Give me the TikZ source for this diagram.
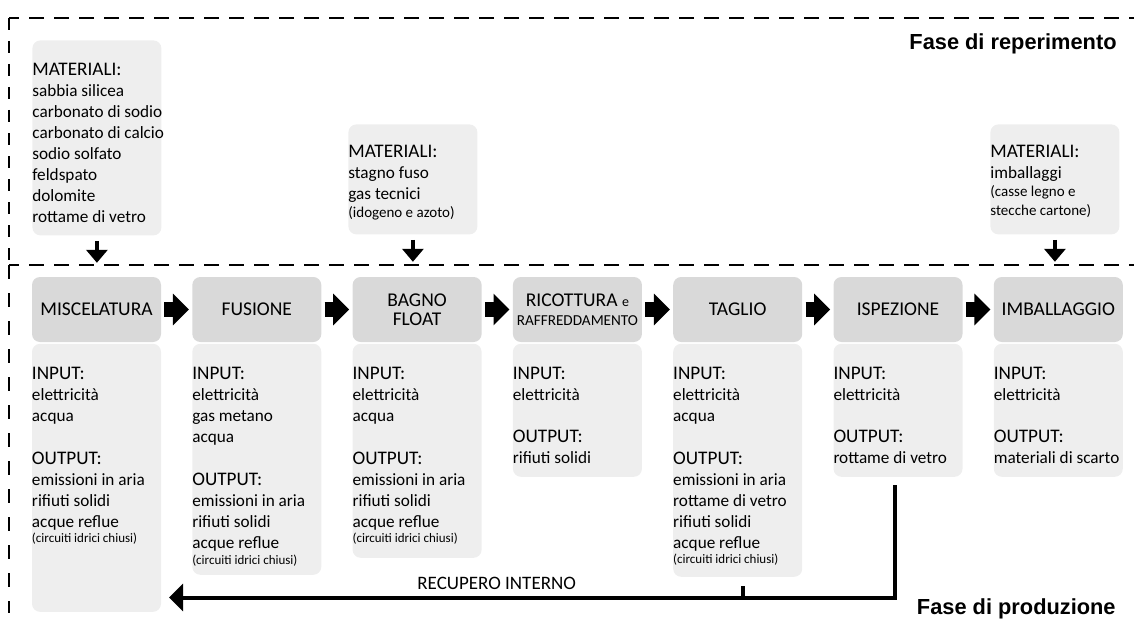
\documentclass[tikz,border=0pt]{standalone}
\usepackage{fontspec}
\setmainfont{Carlito}
\newfontfamily\phasefont{Liberation Sans}
\usetikzlibrary{arrows.meta,positioning}

\definecolor{headgray}{HTML}{D9D9D9}
\definecolor{bodygray}{HTML}{EEEEEE}

\newcommand{\boxhead}[1]{{\fontsize{9.6}{10.5}\selectfont #1}}
\newcommand{\boxnote}[1]{{\fontsize{6.5}{7}\selectfont #1}}
\newcommand{\boxsmall}[1]{{\fontsize{7.5}{9}\selectfont #1}}

\tikzset{
  headbox/.style={fill=headgray, rounded corners=4pt, minimum width=64.5pt, minimum height=32.5pt, inner sep=0pt, align=center, font=\fontsize{9.75}{9.5}\selectfont},
  bodybox/.style={fill=bodygray, rounded corners=4pt, minimum width=64.5pt, inner sep=0pt},
  matbox/.style={fill=bodygray, rounded corners=4pt, minimum width=64.5pt, inner sep=0pt, anchor=north west},
  boxtext/.style={anchor=north west, inner sep=0pt, align=left, font=\fontsize{8.6}{10.5}\selectfont},
  flowarrow/.style={line width=7.5pt, -{Triangle[length=8pt,width=15.5pt]}},
  feedarrow/.style={line width=2pt, -{Triangle[length=6.5pt,width=10.5pt]}},
  recline/.style={line width=2pt},
  phaseline/.style={line width=1pt, dash pattern=on 7.5pt off 5pt, dash phase=2.5pt},
  phaselabel/.style={anchor=base east, inner sep=0pt, font=\phasefont\bfseries\fontsize{10.9}{13}\selectfont}
}

\begin{document}
\begin{tikzpicture}[x=0.5pt,y=-0.5pt]
\useasboundingbox (0,0) rectangle (1134,626);

% phase frame
\draw[phaseline] (9,18) -- (1134,18);
\draw[phaseline] (9,265) -- (1134,265);
\draw[line width=1pt, dash pattern=on 6pt off 5.5pt] (9,18) -- (9,265);
\draw[line width=1pt, dash pattern=on 7pt off 7pt] (9,265) -- (9,613);
\node[phaselabel] (phasetop) at (1117,50) {Fase di reperimento};
\node[phaselabel] (phasebot) at (1116,614) {Fase di produzione};

% materials
\node[matbox, minimum height=97.5pt] (mat1) at (32,40) {};
\node[boxtext] (mat1text) at ([yshift=-11.3pt]mat1.north west) {\boxhead{MATERIALI:}\\ sabbia silicea\\ carbonato di sodio\\ carbonato di calcio\\ sodio solfato\\ feldspato\\ dolomite\\ rottame di vetro};
\node[matbox, minimum height=55pt] (mat2) at (348,124) {};
\node[boxtext] (mat2text) at ([yshift=-10.3pt]mat2.north west) {\boxhead{MATERIALI:}\\ stagno fuso\\ gas tecnici\\[-1.5pt] \boxsmall{(idogeno e azoto)}};
\node[matbox, minimum height=55pt] (mat3) at (990,124) {};
\node[boxtext] (mat3text) at ([yshift=-10.3pt]mat3.north west) {\boxhead{MATERIALI:}\\ imballaggi\\[-1.5pt] \boxsmall{(casse legno e}\\[-1pt] \boxsmall{stecche cartone)}};

\draw[feedarrow] ([yshift=-2.5pt]mat1.south) -- ++(0pt,-11pt);
\draw[feedarrow] ([yshift=-2.5pt]mat2.south) -- ++(0pt,-11pt);
\draw[feedarrow] ([yshift=-2.5pt]mat3.south) -- ++(0pt,-11pt);

% process steps
\node[headbox] (misc) at (96.5,309.5) {MISCELATURA};
\node[headbox, right=15.25pt of misc] (fus) {FUSIONE};
\node[headbox, right=15.25pt of fus] (bagno) {BAGNO\\FLOAT};
\node[headbox, right=15.25pt of bagno] (ricot) {RICOTTURA {\fontsize{7}{9}\selectfont e}\\{\fontsize{7.6}{9}\selectfont RAFFREDDAMENTO}};
\node[headbox, right=15.25pt of ricot] (tagl) {TAGLIO};
\node[headbox, right=15.25pt of tagl] (insp) {ISPEZIONE};
\node[headbox, right=15.25pt of insp] (imbal) {IMBALLAGGIO};

\draw[flowarrow] ([xshift=1.5pt]misc.east) -- ([xshift=-1.5pt]fus.west);
\draw[flowarrow] ([xshift=1.5pt]fus.east) -- ([xshift=-1.5pt]bagno.west);
\draw[flowarrow] ([xshift=1.5pt]bagno.east) -- ([xshift=-1.5pt]ricot.west);
\draw[flowarrow] ([xshift=1.5pt]ricot.east) -- ([xshift=-1.5pt]tagl.west);
\draw[flowarrow] ([xshift=1.5pt]tagl.east) -- ([xshift=-1.5pt]insp.west);
\draw[flowarrow] ([xshift=1.5pt]insp.east) -- ([xshift=-1.5pt]imbal.west);

% inputs and outputs
\node[bodybox, minimum height=134pt, below=0.5pt of misc] (miscbody) {};
\node[bodybox, minimum height=115.5pt, below=0.5pt of fus] (fusbody) {};
\node[bodybox, minimum height=107pt, below=0.5pt of bagno] (bagnobody) {};
\node[bodybox, minimum height=66.5pt, below=0.5pt of ricot] (ricotbody) {};
\node[bodybox, minimum height=116.5pt, below=0.5pt of tagl] (taglbody) {};
\node[bodybox, minimum height=66.5pt, below=0.5pt of insp] (inspbody) {};
\node[bodybox, minimum height=66.5pt, below=0.5pt of imbal] (imbalbody) {};

\node[boxtext] (misctext) at ([yshift=-11.8pt]miscbody.north west) {\boxhead{INPUT:}\\ elettricità\\ acqua\\[11pt] \boxhead{OUTPUT:}\\ emissioni in aria\\ rifiuti solidi\\ acque reflue\\[-3pt] \boxnote{(circuiti idrici chiusi)}};
\node[boxtext] (fustext) at ([yshift=-11.8pt]fusbody.north west) {\boxhead{INPUT:}\\ elettricità\\ gas metano\\ acqua\\[11pt] \boxhead{OUTPUT:}\\ emissioni in aria\\ rifiuti solidi\\ acque reflue\\[-2.5pt] \boxnote{(circuiti idrici chiusi)}};
\node[boxtext] (bagnotext) at ([yshift=-11.8pt]bagnobody.north west) {\boxhead{INPUT:}\\ elettricità\\ acqua\\[11pt] \boxhead{OUTPUT:}\\ emissioni in aria\\ rifiuti solidi\\ acque reflue\\[-3pt] \boxnote{(circuiti idrici chiusi)}};
\node[boxtext] (ricottext) at ([yshift=-11.8pt]ricotbody.north west) {\boxhead{INPUT:}\\ elettricità\\[10.5pt] \boxhead{OUTPUT:}\\ rifiuti solidi};
\node[boxtext] (tagltext) at ([yshift=-11.8pt]taglbody.north west) {\boxhead{INPUT:}\\ elettricità\\ acqua\\[11pt] \boxhead{OUTPUT:}\\ emissioni in aria\\ rottame di vetro\\ rifiuti solidi\\ acque reflue\\[-3pt] \boxnote{(circuiti idrici chiusi)}};
\node[boxtext] (insptext) at ([yshift=-11.8pt]inspbody.north west) {\boxhead{INPUT:}\\ elettricità\\[10.5pt] \boxhead{OUTPUT:}\\ rottame di vetro};
\node[boxtext] (imbaltext) at ([yshift=-11.8pt]imbalbody.north west) {\boxhead{INPUT:}\\ elettricità\\[10.5pt] \boxhead{OUTPUT:}\\ materiali di scarto};

% internal recovery
\coordinate (recend) at (169,597.5);
\draw[recline, -{Triangle[length=7pt,width=13.5pt]}] ([xshift=-1.5pt,yshift=-4pt]inspbody.south) |- (recend);
\draw[recline] ([xshift=2.5pt,yshift=-4.5pt]taglbody.south) -- ([xshift=2.5pt]taglbody.south |- recend);
\node[anchor=base west, inner sep=0pt, font=\fontsize{9.5}{11}\selectfont] (reclabel) at (417,589) {RECUPERO INTERNO};
\end{tikzpicture}
\end{document}
